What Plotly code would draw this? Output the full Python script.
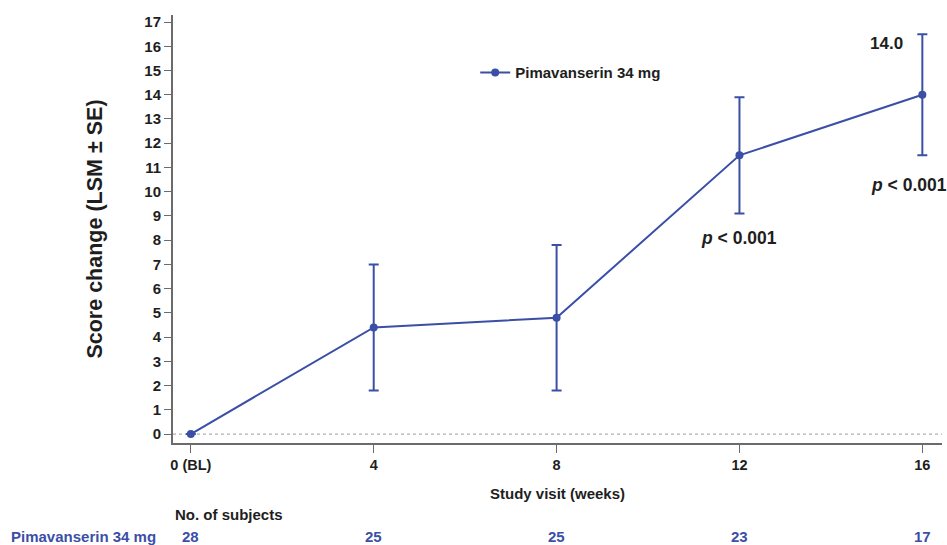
import plotly.graph_objects as go

weeks = [0, 4, 8, 12, 16]
week_labels = ["0 (BL)", "4", "8", "12", "16"]
lsm = [0.0, 4.4, 4.8, 11.5, 14.0]
se = [0.0, 2.6, 3.0, 2.4, 2.5]
n_subjects = [28, 25, 25, 23, 17]
series_name = "Pimavanserin 34 mg"
y_ticks = list(range(0, 18))

BLUE = "#3b4fa6"
DARK = "#1e1e1e"
AXIS = "#6b6b6b"
FONT = "Liberation Sans, Arial, Helvetica, sans-serif"

fig = go.Figure()
fig.add_trace(go.Scatter(
    x=weeks, y=lsm, mode="lines+markers", name=series_name,
    line=dict(color=BLUE, width=2),
    marker=dict(color=BLUE, size=8),
    error_y=dict(type="data", array=se, visible=True, color=BLUE, thickness=2, width=5),
    cliponaxis=False,
))

# dashed zero reference line
fig.add_shape(type="line", xref="paper", yref="y", x0=0, x1=1, y0=0, y1=0,
              line=dict(color="#b0b0b0", width=1.2, dash="dot"), layer="below")

ann = []
ann.append(dict(text=f"{lsm[-1]:.1f}", x=weeks[-1], y=16.1, xref="x", yref="y",
                xanchor="right", yanchor="middle", xshift=-17, showarrow=False,
                font=dict(family=FONT, size=17, color=DARK, weight="bold")))
ann.append(dict(text="<i>p</i> < 0.001", x=weeks[3], y=8.1, xref="x", yref="y",
                xanchor="center", yanchor="middle", showarrow=False,
                font=dict(family=FONT, size=17.5, color=DARK, weight="bold")))
ann.append(dict(text="<i>p</i> < 0.001", x=weeks[4], y=10.27, xref="x", yref="y",
                xanchor="center", yanchor="middle", xshift=-13, showarrow=False,
                font=dict(family=FONT, size=17.5, color=DARK, weight="bold")))
# axis titles
ann.append(dict(text="Score change (LSM ± SE)", x=-0.102, y=0.5, xref="paper", yref="paper",
                textangle=-90, xanchor="center", yanchor="middle", showarrow=False,
                font=dict(family=FONT, size=21.5, color=DARK, weight="bold")))
ann.append(dict(text="Study visit (weeks)", x=0.5, y=-0.117, xref="paper", yref="paper",
                xanchor="center", yanchor="middle", showarrow=False,
                font=dict(family=FONT, size=15, color=DARK, weight="bold")))
ann.append(dict(text="No. of subjects", x=0.0, y=-0.166, xref="paper", yref="paper",
                xanchor="left", yanchor="middle", showarrow=False,
                font=dict(family=FONT, size=15, color=DARK, weight="bold")))
ann.append(dict(text=series_name, x=-0.02, y=-0.2196, xref="paper", yref="paper",
                xanchor="right", yanchor="middle", showarrow=False,
                font=dict(family=FONT, size=15, color=BLUE, weight="bold")))
for w, n in zip(weeks, n_subjects):
    ann.append(dict(text=str(n), x=w, y=-0.2196, xref="x", yref="paper",
                    xanchor="center", yanchor="middle", showarrow=False,
                    font=dict(family=FONT, size=15, color=BLUE, weight="bold")))

fig.update_layout(
    width=947, height=545,
    margin=dict(l=173, r=5, t=15, b=102),
    paper_bgcolor="white", plot_bgcolor="white",
    showlegend=True,
    legend=dict(x=0.393, y=0.865, xanchor="left", yanchor="middle",
                bgcolor="rgba(0,0,0,0)",
                font=dict(family=FONT, size=15, color=DARK, weight="bold")),
    annotations=ann,
    xaxis=dict(range=[-0.39, 16.43], tickvals=weeks, ticktext=week_labels,
               showgrid=False, zeroline=False, showline=True, linecolor=AXIS, linewidth=2,
               ticks="outside", ticklen=8, tickcolor=AXIS, tickwidth=1.2,
               tickfont=dict(family=FONT, size=14.5, color=DARK, weight="bold")),
    yaxis=dict(range=[-0.37, 17.29], tickvals=y_ticks,
               showgrid=False, zeroline=False, showline=True, linecolor=AXIS, linewidth=2,
               ticks="outside", ticklen=7, tickcolor=AXIS, tickwidth=1.2,
               tickfont=dict(family=FONT, size=15, color=DARK, weight="bold")),
)

fig.write_html("out.html", config={"displayModeBar": False},
               post_script="document.body.style.margin='0';document.body.style.overflow='hidden';")
